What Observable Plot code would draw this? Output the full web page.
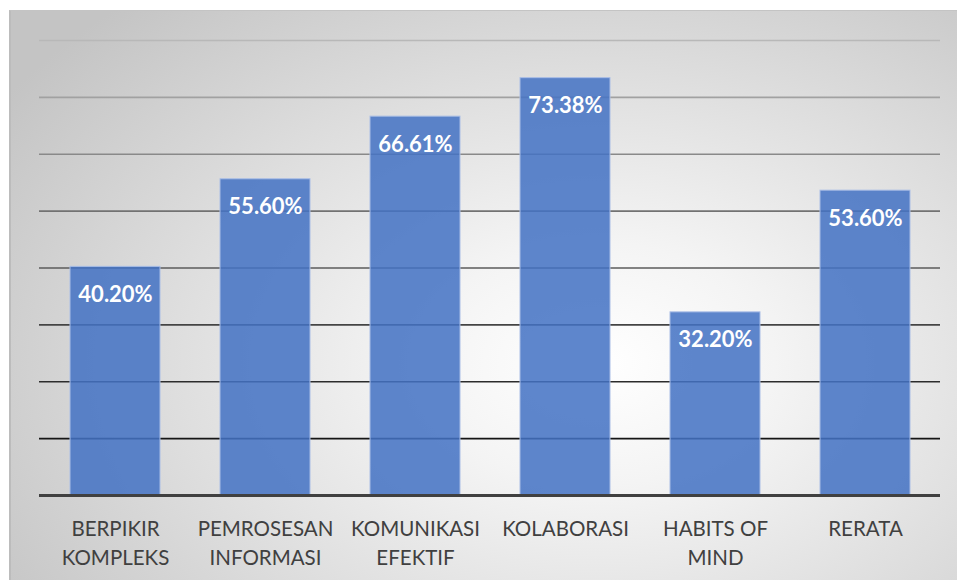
<!DOCTYPE html>
<html>
<head>
<meta charset="utf-8">
<script src="https://cdn.jsdelivr.net/npm/d3@7"></script>
<script src="https://cdn.jsdelivr.net/npm/@observablehq/plot@0.6"></script>
<style>
  html, body { margin: 0; padding: 0; background: #fff; }
  #wrap { position: relative; width: 957px; height: 580px; overflow: hidden; }
  #bg {
    position: absolute; left: 9px; top: 10px; width: 948px; height: 570px;
    border-top: 1px solid #c4c4c4; border-left: 2px solid #bcbcbc; box-sizing: border-box;
    background: radial-gradient(ellipse 75% 85% at 62% 62%, #ffffff 0%, #f4f4f4 25%, #dedede 60%, #c4c4c4 100%);
  }
  #chart { position: absolute; left: 0; top: 0; }
</style>
</head>
<body>
<div id="wrap"><div id="bg"></div><div id="chart"></div></div>
<script>
const categories = ["BERPIKIR KOMPLEKS", "PEMROSESAN INFORMASI", "KOMUNIKASI EFEKTIF", "KOLABORASI", "HABITS OF MIND", "RERATA"];
const tickLabels = ["BERPIKIR\nKOMPLEKS", "PEMROSESAN\nINFORMASI", "KOMUNIKASI\nEFEKTIF", "KOLABORASI", "HABITS OF\nMIND", "RERATA"];
const values = [40.20, 55.60, 66.61, 73.38, 32.20, 53.60];
const gridTicks = [10, 20, 30, 40, 50, 60, 70, 80];

const data = categories.map((c, i) => ({cat: c, label: tickLabels[i], value: values[i]}));
const gridColor = d3.interpolateRgb("#151515", "#b8b8b8");

const chart = Plot.plot({
  width: 957,
  height: 580,
  marginLeft: 39,
  marginRight: 17,
  marginTop: 40,
  marginBottom: 85,
  style: {background: "transparent", fontFamily: "Lato, 'Open Sans', sans-serif"},
  x: {domain: categories, paddingInner: 0.4, paddingOuter: 0.2, axis: null},
  y: {domain: [0, 80], axis: null},
  marks: [
    Plot.ruleY(gridTicks, {y: d => d, stroke: d => gridColor((d - 10) / 70), strokeWidth: 1.6}),
    Plot.barY(data, {x: "cat", y: "value", fill: "#4472C4", fillOpacity: 0.86, stroke: "#a9bde6", strokeWidth: 1}),
    Plot.ruleY([0], {stroke: "#404040", strokeWidth: 3}),
    Plot.text(data, {x: "cat", y: "value", text: d => d.value.toFixed(2) + "%", dy: 28, fill: "white", fontWeight: "bold", fontSize: 22, lineAnchor: "middle"}),
    Plot.text(data, {x: "cat", y: 0, text: "label", dy: 20, lineAnchor: "top", fill: "#404040", fontSize: 20.5, lineHeight: 1.4})
  ]
});
document.getElementById("chart").appendChild(chart);
</script>
</body>
</html>
